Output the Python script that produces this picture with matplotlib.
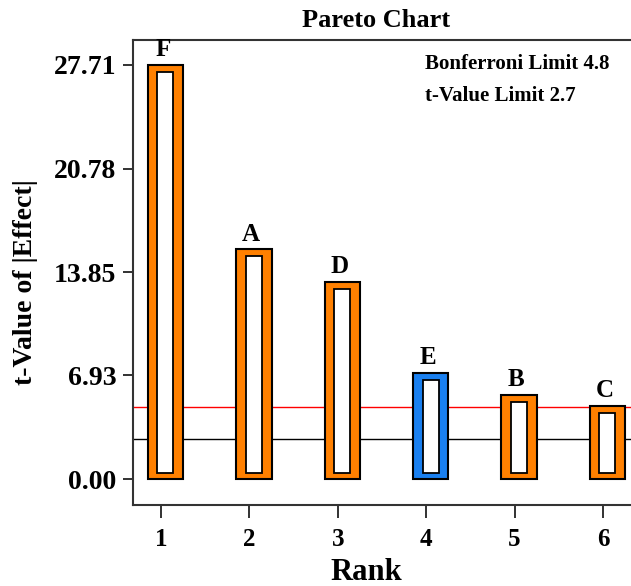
import numpy as np
from matplotlib import pyplot as plt

# data
ranks = np.array([1, 2, 3, 4, 5, 6])
terms = ["F", "A", "D", "E", "B", "C"]
t_values = np.array([27.71, 15.37, 13.17, 7.11, 5.62, 4.89])
positive = [True, True, True, False, True, True]
y_ticks = [0.00, 6.93, 13.85, 20.78, 27.71]
bonferroni_limit = 4.8
t_limit = 2.7

orange = "#FF8000"
blue = "#1A80F0"

plt.rcParams['font.family'] = ['Liberation Serif', 'DejaVu Serif']
plt.rcParams['font.weight'] = 'bold'

fig = plt.figure(figsize=(6.31, 5.86), dpi=100)
ax = fig.add_axes([133/631, 81/586, 1 - 133/631, 465/586])

#bars are slightly right of the ticks in the original
xpos = ranks + 0.05
colors = [orange if p else blue for p in positive]
ax.bar(xpos, t_values, width=0.40, color=colors, edgecolor="black", linewidth=1.5, zorder=3)
ax.bar(xpos, t_values - 0.9, bottom=0.43, width=0.18, color="white", edgecolor="black", linewidth=1.3, zorder=4)

for x, v, name in zip(xpos, t_values, terms):
    ax.text(x - 0.03, v + 0.25, name, ha="center", va="bottom", fontsize=18, fontweight="bold")

#limit lines
ax.axhline(bonferroni_limit, color="red", linewidth=1.0, zorder=2)
ax.axhline(t_limit, color="black", linewidth=1.0, zorder=2)

ax.set_xlim(0.683, 6.317)
ax.set_ylim(-1.74, 29.38)
ax.set_xticks(ranks)
ax.set_xticklabels([str(r) for r in ranks], fontsize=18, fontweight="bold")
ax.set_yticks(y_ticks)
ax.set_yticklabels([f"{t:.2f}" for t in y_ticks], fontsize=20, fontweight="bold")
ax.tick_params(axis="x", direction="out", length=9.5, width=1.3, pad=7, colors="#222222", labelcolor="black")
ax.tick_params(axis="y", direction="out", length=7, width=1.3, pad=5, colors="#222222", labelcolor="black")

for side in ["left", "bottom", "top"]:
    ax.spines[side].set_color("#333333")
    ax.spines[side].set_linewidth(1.5)
ax.spines["right"].set_visible(False)

ax.text(425/631, 1 - 69/586, "Bonferroni Limit 4.8", transform=fig.transFigure,
        fontsize=15, fontweight="bold", ha="left", va="baseline")
ax.text(425/631, 1 - 101/586, "t-Value Limit 2.7", transform=fig.transFigure,
        fontsize=15, fontweight="bold", ha="left", va="baseline")

fig.text(376/631, 1 - 27/586, "Pareto Chart", fontsize=19, fontweight="bold", ha="center", va="baseline")
fig.text(366/631, 1 - 580/586, "Rank", fontsize=22, fontweight="bold", ha="center", va="baseline")
fig.text(26/631, 1 - 282/586, "t-Value of |Effect|", fontsize=20, fontweight="bold",
         rotation=90, ha="center", va="center")

fig.savefig("out.png", dpi=100)
